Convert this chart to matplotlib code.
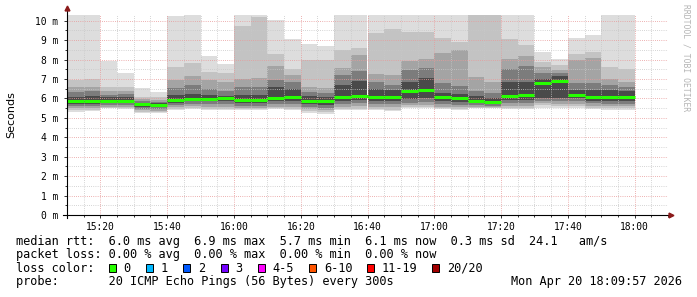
import matplotlib
matplotlib.use('Agg')
import matplotlib.pyplot as plt
import matplotlib.dates as mdates
from matplotlib.patches import Rectangle
from matplotlib.lines import Line2D
from matplotlib.ticker import MultipleLocator, FuncFormatter
import pandas as pd
import numpy as np

# ---------------- data (milliseconds) ----------------
start_times = ["15:10", "15:15", "15:20", "15:25", "15:30", "15:35", "15:40", "15:45",
               "15:50", "15:55", "16:00", "16:05", "16:10", "16:15", "16:20", "16:25",
               "16:30", "16:35", "16:40", "16:45", "16:50", "16:55", "17:00", "17:05",
               "17:10", "17:15", "17:20", "17:25", "17:30", "17:35", "17:40", "17:45",
               "17:50", "17:55"]

median_ms = [5.87, 5.88, 5.88, 5.88, 5.69, 5.66, 5.93, 5.99, 5.99, 6.00,
             5.92, 5.90, 6.03, 6.07, 5.89, 5.85, 6.06, 6.12, 6.08, 6.05,
             6.36, 6.42, 6.07, 6.02, 5.89, 5.84, 6.12, 6.17, 6.78, 6.89,
             6.18, 6.06, 6.06, 6.06]

# smoke bands, outermost (max/min) to innermost
band_max = [10.5, 10.5, 7.93, 7.32, 6.52, 6.31, 10.26, 10.5, 8.2, 7.75,
            10.5, 10.5, 10.03, 9.04, 8.78, 8.70, 10.5, 10.5, 10.5, 10.5,
            10.5, 10.5, 10.5, 10.5, 10.5, 10.5, 10.5, 10.5, 8.41, 8.01,
            9.11, 9.26, 10.5, 10.5]
band_hi2 = [6.95, 7.0, 6.57, 6.57, 6.09, 6.05, 7.63, 7.84, 7.38, 7.32,
            9.73, 10.17, 8.29, 7.51, 7.98, 7.96, 8.49, 8.58, 9.38, 9.55,
            9.42, 9.42, 9.09, 8.92, 10.45, 10.45, 9.04, 8.75, 7.89, 7.72,
            8.29, 8.41, 7.6, 7.5]
band_hi3 = [6.57, 6.6, 6.40, 6.40, 5.95, 5.92, 6.95, 7.15, 6.95, 6.85,
            6.98, 7.03, 7.67, 7.2, 6.57, 6.52, 7.55, 8.23, 7.26, 7.2,
            7.93, 8.03, 8.35, 8.5, 7.12, 6.86, 8.03, 8.2, 7.6, 7.46,
            8.0, 8.1, 6.98, 6.86]
band_hi4 = [6.35, 6.4, 6.20, 6.22, 5.85, 5.82, 6.55, 6.7, 6.5, 6.4,
            6.57, 6.6, 6.95, 6.85, 6.35, 6.3, 7.2, 7.41, 6.84, 6.7,
            7.46, 7.55, 6.78, 6.64, 6.4, 6.3, 7.51, 7.65, 7.3, 7.3,
            6.78, 6.78, 6.7, 6.6]
band_hi5 = [6.09, 6.1, 6.05, 6.05, 5.78, 5.75, 6.2, 6.25, 6.2, 6.15,
            6.2, 6.2, 6.57, 6.5, 6.1, 6.05, 6.69, 6.9, 6.5, 6.45,
            6.86, 7.03, 6.30, 6.25, 6.1, 6.0, 6.84, 6.85, 7.0, 7.15,
            6.45, 6.45, 6.45, 6.4]
band_lo5 = [5.70, 5.70, 5.75, 5.75, 5.58, 5.55, 5.78, 5.85, 5.85, 5.85,
            5.75, 5.75, 5.85, 5.88, 5.70, 5.65, 5.88, 5.92, 5.88, 5.85,
            5.98, 6.0, 5.85, 5.82, 5.75, 5.72, 5.92, 5.92, 6.0, 6.0,
            6.0, 5.88, 5.88, 5.88]
band_lo4 = [5.60, 5.60, 5.66, 5.66, 5.48, 5.45, 5.66, 5.72, 5.72, 5.72,
            5.62, 5.62, 5.72, 5.72, 5.55, 5.50, 5.72, 5.75, 5.72, 5.70,
            5.78, 5.80, 5.70, 5.68, 5.65, 5.63, 5.75, 5.75, 5.85, 5.85,
            5.85, 5.75, 5.72, 5.72]
band_lo3 = [5.49, 5.50, 5.58, 5.58, 5.40, 5.37, 5.58, 5.60, 5.58, 5.58,
            5.52, 5.52, 5.58, 5.58, 5.45, 5.40, 5.58, 5.60, 5.58, 5.55,
            5.65, 5.66, 5.58, 5.55, 5.58, 5.56, 5.60, 5.62, 5.75, 5.72,
            5.70, 5.62, 5.60, 5.60]
band_lo2 = [5.40, 5.42, 5.52, 5.50, 5.32, 5.30, 5.48, 5.50, 5.48, 5.48,
            5.45, 5.45, 5.50, 5.48, 5.35, 5.30, 5.48, 5.48, 5.45, 5.42,
            5.55, 5.56, 5.50, 5.48, 5.53, 5.52, 5.50, 5.52, 5.65, 5.62,
            5.60, 5.52, 5.50, 5.50]
band_min = [5.32, 5.35, 5.49, 5.46, 5.27, 5.23, 5.40, 5.43, 5.40, 5.40,
            5.40, 5.40, 5.43, 5.40, 5.27, 5.20, 5.40, 5.40, 5.40, 5.35,
            5.49, 5.49, 5.43, 5.40, 5.49, 5.49, 5.45, 5.45, 5.49, 5.49,
            5.52, 5.44, 5.40, 5.40]

legend_labels = ["0", "1", "2", "3", "4-5", "6-10", "11-19", "20/20"]
legend_colors = ["#26ff00", "#00b8ff", "#0059ff", "#7300ff", "#ff00ff", "#ff5500", "#ff0000", "#a10000"]

rtt_line = "median rtt:  6.0 ms avg  6.9 ms max  5.7 ms min  6.1 ms now  0.3 ms sd  24.1   am/s"
loss_line = "packet loss: 0.00 % avg  0.00 % max  0.00 % min  0.00 % now"
probe_line = "probe:       20 ICMP Echo Pings (56 Bytes) every 300s"
stamp = "Mon Apr 20 18:09:57 2026"

# ---------------- figure ----------------
W, H = 697, 297
fig = plt.figure(figsize=(W / 100, H / 100), dpi=100)
fig.patch.set_facecolor('white')

def fx(px):
    return px / W

def fy(py):
    return 1 - py / H

ax_left, ax_right, ax_bottom, ax_top = 67, 668, 215, 14.5
ax = fig.add_axes([fx(ax_left), fy(ax_bottom), (ax_right - ax_left) / W, (ax_bottom - ax_top) / H])
ax.set_facecolor('white')

day = "2026-04-20 "
x = mdates.date2num(pd.to_datetime([day + t for t in start_times]))
width = 5 / 1440.0

layers = [
    (band_min, band_max, '#dddddd'),
    (band_lo2, band_hi2, '#c3c3c3'),
    (band_lo3, band_hi3, '#a4a4a4'),
    (band_lo4, band_hi4, '#7c7c7c'),
    (band_lo5, band_hi5, '#4a4a4a'),
]
for lo, hi, col in layers:
    lo = np.array(lo)
    hi = np.array(hi)
    ax.bar(x, hi - lo, width=width, bottom=lo, align='edge', color=col,
           linewidth=0, antialiased=False, zorder=2)

ax.hlines(median_ms, x, x + width, colors='#26ff00', linewidth=2.2, zorder=6)

x0 = mdates.date2num(pd.Timestamp(day + "15:10"))
x1 = mdates.date2num(pd.Timestamp(day + "18:10"))
ax.set_xlim(x0, x1)
ax.set_ylim(0, (ax_bottom - ax_top) / 19.43)

for s in ax.spines.values():
    s.set_visible(False)

ax.xaxis.set_major_locator(mdates.MinuteLocator(byminute=[0, 20, 40]))
ax.xaxis.set_minor_locator(mdates.MinuteLocator(byminute=range(0, 60, 5)))
ax.xaxis.set_major_formatter(mdates.DateFormatter('%H:%M'))
ax.yaxis.set_major_locator(MultipleLocator(1))
ax.yaxis.set_minor_locator(MultipleLocator(0.5))
ax.yaxis.set_major_formatter(FuncFormatter(lambda v, p: f"{int(round(v))} m"))

dot = (0, (0.72, 1.44))
ax.grid(which='minor', color='#c8c8c8', linestyle=dot, linewidth=0.72, zorder=8)
ax.grid(which='major', color='#e89a9a', linestyle=dot, linewidth=0.72, zorder=9)
ax.set_axisbelow(False)

mono = 'DejaVu Sans Mono'
ax.tick_params(axis='both', which='major', length=2.2, width=0.7, color='#333333',
               labelsize=6.9, pad=3)
ax.tick_params(axis='both', which='minor', length=1.5, width=0.7, color='#333333')
for lab in ax.get_xticklabels() + ax.get_yticklabels():
    lab.set_fontfamily(mono)
ax.tick_params(axis='y', pad=4)

# axis lines with arrows
fig.add_artist(Line2D([fx(63), fx(670)], [fy(215), fy(215)], color='black', lw=0.8))
fig.add_artist(Line2D([fx(67), fx(67)], [fy(218), fy(9)], color='black', lw=0.8))
fig.add_artist(Line2D([fx(671)], [fy(215)], marker='>', markersize=3.5, color='#8b1a1a', lw=0))
fig.add_artist(Line2D([fx(67)], [fy(8)], marker='^', markersize=3.5, color='#8b1a1a', lw=0))

# y label and side label
fig.text(fx(11), fy(115), "Seconds", rotation=90, ha='center', va='center',
         fontsize=8, family='DejaVu Sans', color='black')
fig.text(fx(686), fy(4), "RRDTOOL / TOBI OETIKER", rotation=270, ha='center', va='top',
         fontsize=5.8, family=mono, color='#b4b4b4')

# legend text
fs = 8.6
fig.text(fx(16), fy(241), rtt_line, ha='left', va='center', fontsize=fs, family=mono)
fig.text(fx(16), fy(254.5), loss_line, ha='left', va='center', fontsize=fs, family=mono)
fig.text(fx(16), fy(268), "loss color:", ha='left', va='center', fontsize=fs, family=mono)
sq_x = [108.5, 146, 183, 220.5, 257.6, 309, 367, 432]
for sx, lab, col in zip(sq_x, legend_labels, legend_colors):
    sz = 7.3
    fig.add_artist(Rectangle((fx(sx), fy(268 + sz / 2)), sz / W, sz / H,
                             transform=fig.transFigure, facecolor=col,
                             edgecolor='black', linewidth=0.7))
    fig.text(fx(sx + 15), fy(268), lab, ha='left', va='center', fontsize=fs, family=mono)
fig.text(fx(16), fy(282), probe_line, ha='left', va='center', fontsize=fs, family=mono)
fig.text(fx(682), fy(282), stamp, ha='right', va='center', fontsize=fs, family=mono)

fig.savefig('out.png', dpi=100, facecolor='white')
